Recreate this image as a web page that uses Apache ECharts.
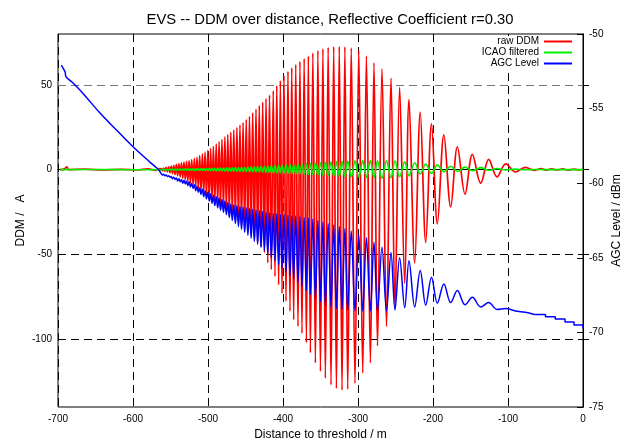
<!DOCTYPE html>
<html><head><meta charset="utf-8">
<script src="https://cdn.jsdelivr.net/npm/echarts@6/dist/echarts.min.js"></script>
<style>html,body{margin:0;padding:0;background:#fff}#c{width:633px;height:441px}</style>
</head><body><div id="c"></div>
<script>
// Distance (m) of each oscillation maximum / following minimum of raw DDM
const distPeak = [-562.6,-559.2,-555.8,-552.4,-549.0,-545.6,-542.2,-538.8,-535.4,-532.0,
 -528.6,-525.2,-521.7,-518.2,-514.7,-511.1,-507.5,-503.9,-500.2,-496.5,
 -492.8,-489.0,-485.2,-481.4,-477.5,-473.6,-469.6,-465.6,-461.5,-457.4,
 -453.2,-449.0,-444.7,-440.4,-436.0,-431.6,-427.1,-422.6,-418.0,-413.0,
 -408.3,-403.5,-398.7,-393.4,-388.3,-383.0,-377.4,-371.8,-366.2,-360.2,
 -353.5,-346.8,-339.8,-332.4,-325.0,-317.5,-309.0,-299.0,-288.8,-278.7,
 -268.0,-256.0,-244.5,-232.0,-217.0,-202.0,-185.5,-167.5,-147.5,-125.7,
 -103.0,-77.0];
const distTrough = [-560.9,-557.5,-554.1,-550.7,-547.3,-543.9,-540.5,-537.1,-533.7,-530.3,
 -526.9,-523.4,-519.9,-516.4,-512.9,-509.3,-505.7,-502.0,-498.3,-494.6,
 -490.9,-487.1,-483.3,-479.4,-475.5,-471.6,-467.6,-463.5,-459.4,-455.3,
 -451.1,-446.8,-442.5,-438.2,-433.8,-429.3,-424.8,-420.3,-415.6,-410.7,
 -405.8,-401.3,-396.0,-390.7,-385.8,-380.0,-374.7,-368.8,-363.5,-356.8,
 -350.1,-343.5,-336.0,-328.8,-321.3,-313.7,-304.0,-293.7,-283.5,-274.0,
 -262.0,-250.7,-237.7,-224.4,-209.7,-194.2,-176.4,-157.3,-136.4,-114.7,
 -90.1,-65.0];

// raw DDM (uA)
const rawPeak = [0.6,0.9,1.3,1.7,2.1,2.6,3.1,3.5,4.0,4.4,
 4.9,5.4,5.9,6.6,7.4,8.3,9.3,10.3,11.4,12.6,
 13.8,15.1,16.5,17.8,19.3,20.7,22.1,23.5,24.9,26.3,
 27.8,29.6,31.5,33.5,35.6,37.8,39.8,41.9,44.0,46.5,
 49.5,52.5,55.5,58.0,60.0,62.0,63.8,65.5,67.0,68.8,
 70.2,71.3,72.2,72.6,72.6,72.4,71.8,70.5,67.0,63.0,
 59.5,54.0,48.5,41.5,34.0,27.0,20.5,13.5,9.0,6.0,
 3.4,1.3];
const rawTrough = [-0.6,-0.9,-1.3,-1.8,-2.3,-2.9,-3.6,-4.3,-5.1,-5.9,
 -6.8,-7.8,-8.9,-10.0,-11.2,-12.5,-13.8,-15.1,-16.6,-17.8,
 -19.0,-20.1,-21.3,-22.5,-23.9,-25.3,-26.8,-28.4,-30.0,-31.7,
 -33.5,-35.5,-37.7,-40.0,-42.5,-45.5,-49.0,-55.0,-59.0,-63.0,
 -68.0,-73.0,-77.6,-83.5,-88.6,-92.4,-96.5,-102.0,-108.0,-114.0,
 -119.0,-123.0,-127.0,-129.0,-130.0,-129.5,-126.0,-120.0,-114.0,-104.0,
 -92.5,-80.6,-67.0,-55.0,-43.0,-32.0,-22.0,-14.5,-8.0,-4.3,
 -1.4,-0.4];
const rawLead = [[-697,0],[-692,0.3],[-688,1.6],[-686,0],[-665,0.3],[-640,-0.2],[-615,0.2],[-595,-0.2],[-580,0.4],[-570,-0.4],[-566,0.4]];
const rawTail = [[-56,0.6],[-49,-0.3],[-42,0.5],[-35,-0.2],[-27,0.4],[-20,-0.3],[-12,0.3],[-5,-0.2],[0,0.2]];

// ICAO filtered (uA)
const icaoAtPeak = [-0.2,-0.2,-0.2,-0.25,-0.25,-0.3,-0.3,-0.3,-0.35,-0.35,
 -0.4,-0.4,-0.4,-0.45,-0.45,-0.5,-0.5,-0.55,-0.55,-0.6,
 -0.65,-0.7,-0.7,-0.75,-0.8,-0.85,-0.9,-0.95,-1.0,-1.05,
 -1.1,-1.15,-1.2,-1.3,-1.35,-1.4,-1.5,-1.6,-1.7,-1.8,
 -1.9,-2.0,-2.1,-2.2,-2.3,-2.4,-2.5,-2.7,-2.8,-3.0,
 -3.2,-3.3,-3.5,-3.7,-3.9,-4.1,-4.3,-4.5,-4.7,-4.8,
 -5.0,-4.8,-4.2,-3.6,-2.7,-2.2,-1.3,-1.1,-0.7,-0.4,
 -0.2,-0.1];
const icaoAtTrough = [0.2,0.2,0.25,0.3,0.3,0.35,0.35,0.4,0.4,0.45,
 0.45,0.5,0.5,0.55,0.6,0.6,0.65,0.7,0.75,0.8,
 0.85,0.9,0.95,1.0,1.05,1.1,1.15,1.2,1.3,1.35,
 1.4,1.5,1.6,1.7,1.8,1.9,2.0,2.1,2.2,2.4,
 2.5,2.6,2.8,2.9,3.0,3.2,3.3,3.5,3.7,3.9,
 4.1,4.3,4.5,4.7,4.9,5.1,5.2,5.3,5.3,5.2,
 5.2,5.1,4.6,4.1,3.3,2.8,2.0,1.5,1.2,0.7,
 0.3,0.1];
const icaoLead = [[-697,0],[-640,0.1],[-600,-0.1],[-566,0]];
const icaoTail = [[-50,0],[0,0]];

// AGC Level (dBm)
const agcAtPeak = [-59.35,-59.4,-59.45,-59.5,-59.55,-59.6,-59.65,-59.7,-59.75,-59.8,
 -59.85,-59.9,-60.0,-60.1,-60.2,-60.3,-60.4,-60.5,-60.6,-60.7,
 -60.8,-60.9,-61.0,-61.1,-61.2,-61.3,-61.4,-61.45,-61.5,-61.55,
 -61.6,-61.65,-61.7,-61.75,-61.8,-61.85,-61.9,-61.95,-62.0,-62.05,
 -62.05,-62.1,-62.1,-62.15,-62.2,-62.2,-62.25,-62.3,-62.35,-62.4,
 -62.5,-62.6,-62.7,-62.8,-62.9,-63.05,-63.2,-63.45,-63.65,-63.95,
 -64.3,-64.65,-65.0,-65.2,-65.85,-66.3,-66.75,-67.2,-67.65,-68.0,
 -68.39,-68.65];
const agcAtTrough = [-59.45,-59.5,-59.55,-59.6,-59.7,-59.75,-59.85,-59.9,-60.0,-60.05,
 -60.15,-60.25,-60.35,-60.5,-60.6,-60.75,-60.9,-61.05,-61.2,-61.35,
 -61.5,-61.65,-61.8,-61.95,-62.1,-62.3,-62.5,-62.7,-62.9,-63.1,
 -63.3,-63.5,-63.7,-63.9,-64.1,-64.3,-64.5,-64.75,-65.0,-65.2,
 -65.45,-65.7,-65.95,-66.2,-66.4,-66.65,-66.9,-67.2,-67.45,-67.75,
 -67.95,-68.15,-68.3,-68.4,-68.45,-68.5,-68.55,-68.57,-68.57,-68.57,
 -68.57,-68.5,-68.35,-68.3,-68.17,-68.05,-68.0,-68.15,-68.3,-68.46,
 -68.57,-68.8];
const agcLead = [[-695.6,-52.08],[-690.5,-52.55],[-689.5,-52.85],[-681,-53.24],[-666.7,-53.98],[-644,-55.3],[-622,-56.44],[-600,-57.56],[-577.8,-58.57],[-568.9,-58.95],[-565,-59.15]];
const agcTail = [[-65,-68.8],[-50,-68.95],[-37,-69.1],[-24,-69.3],[-12,-69.5],[0,-69.72]];

const yLeftTicks = [-100,-50,0,50];
const legendNames = ['raw DDM','ICAO filtered','AGC Level'];

function build(lead, py, ty, tail) {
  const out = lead.slice();
  for (let i = 0; i < distPeak.length; i++) {
    out.push([distPeak[i], py[i]]);
    out.push([distTrough[i], ty[i]]);
  }
  return out.concat(tail);
}

const FONT = "'Liberation Sans', Arial, sans-serif";
const chart = echarts.init(document.getElementById('c'), null, {renderer: 'canvas'});
chart.setOption({
  animation: false,
  backgroundColor: '#fff',
  textStyle: {fontFamily: FONT},
  title: {
    text: 'EVS -- DDM over distance, Reflective Coefficient r=0.30',
    left: 325, top: 7, textAlign: 'center',
    textStyle: {fontSize: 14.8, fontWeight: 'normal', color: '#000', fontFamily: FONT}
  },
  grid: {left: 58, right: 50, top: 34, bottom: 34, show: true, borderColor: '#000', borderWidth: 1,
    backgroundColor: 'transparent', containLabel: false, outerBoundsMode: 'none'},
  legend: {
    data: legendNames, orient: 'vertical', right: 53, top: 36, padding: [0, 8, 3, 4],
    backgroundColor: '#fff',
    align: 'right', itemGap: 0, itemWidth: 28, itemHeight: 2, icon: 'rect',
    textStyle: {fontSize: 10, color: '#000', fontFamily: FONT, lineHeight: 11}
  },
  xAxis: [{
    type: 'value', min: -700, max: 0, interval: 100, position: 'bottom',
    name: 'Distance to threshold / m', nameLocation: 'middle', nameGap: 22, nameMoveOverlap: false,
    nameTextStyle: {fontSize: 12, color: '#000', fontFamily: FONT},
    axisLine: {show: true, lineStyle: {color: '#000'}},
    axisTick: {show: true, inside: true, length: 6, lineStyle: {color: '#000'}},
    axisLabel: {fontSize: 10, color: '#000', margin: 7, fontFamily: FONT},
    splitLine: {show: true, lineStyle: {color: '#000', type: [8, 5], width: 1}}
  }, {
    type: 'value', min: -700, max: 0, interval: 100, position: 'top',
    axisLine: {show: false}, axisTick: {show: true, inside: true, length: 6, lineStyle: {color: '#000'}},
    axisLabel: {show: false}, splitLine: {show: false}
  }],
  yAxis: [{
    type: 'value', min: -140, max: 80, position: 'left',
    name: 'DDM /   A', nameLocation: 'middle', nameGap: 31, nameMoveOverlap: false,
    nameTextStyle: {fontSize: 12, color: '#000', fontFamily: FONT},
    axisLine: {show: true, lineStyle: {color: '#000'}},
    axisTick: {show: true, inside: true, length: 6, customValues: yLeftTicks, lineStyle: {color: '#000'}},
    axisLabel: {fontSize: 10, color: '#000', margin: 6, customValues: yLeftTicks, fontFamily: FONT},
    splitLine: {show: true, lineStyle: {color: ['#000', '#000', '#000', '#777'], type: [8, 5], width: 1}}
  }, {
    type: 'value', min: -75, max: -50, interval: 5, position: 'right',
    name: 'AGC Level / dBm', nameLocation: 'middle', nameGap: 28, nameRotate: 90, nameMoveOverlap: false,
    nameTextStyle: {fontSize: 12, color: '#000', fontFamily: FONT},
    axisLine: {show: true, lineStyle: {color: '#000'}},
    axisTick: {show: true, inside: true, length: 6, lineStyle: {color: '#000'}},
    axisLabel: {fontSize: 10, color: '#000', margin: 6, fontFamily: FONT},
    splitLine: {show: false}
  }],
  series: [{
    name: 'raw DDM', type: 'line', xAxisIndex: 0, yAxisIndex: 0, symbol: 'none', smooth: 0.35,
    data: build(rawLead, rawPeak, rawTrough, rawTail),
    lineStyle: {color: '#ff0000', width: 1.7}, itemStyle: {color: '#ff0000'}
  }, {
    name: 'ICAO filtered', type: 'line', xAxisIndex: 0, yAxisIndex: 0, symbol: 'none', smooth: 0.35,
    data: build(icaoLead, icaoAtPeak, icaoAtTrough, icaoTail),
    lineStyle: {color: '#00ee00', width: 1.6}, itemStyle: {color: '#00ee00'}
  }, {
    name: 'AGC Level', type: 'line', xAxisIndex: 0, yAxisIndex: 1, symbol: 'none', smooth: 0.35,
    data: build(agcLead, agcAtPeak, agcAtTrough, []),
    lineStyle: {color: '#0000ff', width: 1.5}, itemStyle: {color: '#0000ff'}
  }, {
    name: 'AGC Level', type: 'line', xAxisIndex: 0, yAxisIndex: 1, symbol: 'none', step: 'end',
    data: agcTail,
    lineStyle: {color: '#0000ff', width: 1.5}, itemStyle: {color: '#0000ff'}
  }]
});
</script></body></html>
